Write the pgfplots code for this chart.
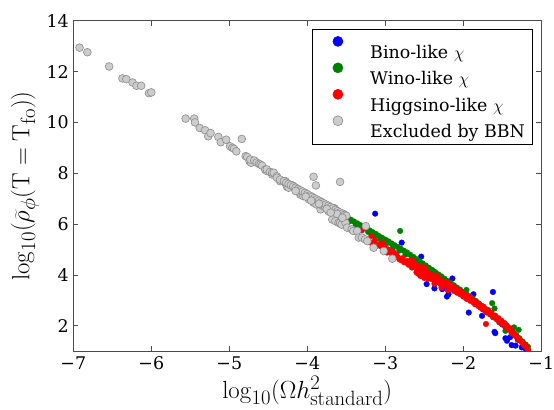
\documentclass[border=0pt]{standalone}
\usepackage[no-math]{fontspec}
\setmainfont{DejaVu Serif}
\usepackage{pgfplots}
\pgfplotsset{compat=1.18}
\definecolor{mplblue}{rgb}{0,0,1}
\definecolor{mplgreen}{rgb}{0,0.5,0}
\definecolor{mplred}{rgb}{1,0,0}
\definecolor{bbnfill}{rgb}{0.8,0.8,0.8}
\definecolor{bbnedge}{rgb}{0.55,0.55,0.55}
\definecolor{axgray}{rgb}{0.3,0.3,0.3}
\newcommand\tickfont{\fontsize{17.5}{20}\selectfont}
\newcommand\labfont{\fontsize{24.88}{29}\selectfont}
\begin{document}
\begin{tikzpicture}
\useasboundingbox (-73.3bp,-58.8bp) rectangle (480.7bp,351.2bp);
\begin{axis}[
  scale only axis, width=468bp, height=330.5bp,
  xmin=-7, xmax=-1, ymin=1, ymax=14,
  xtick={-7,-6,-5,-4,-3,-2,-1},
  xticklabels={−7,−6,−5,−4,−3,−2,−1},
  ytick={2,4,6,8,10,12,14},
  yticklabels={2,4,6,8,10,12,14},
  tick align=inside, major tick length=5bp,
  every tick/.style={draw=axgray, line width=0.8bp},
  axis line style={draw=axgray, line width=1.1bp},
  ticklabel style={font=\tickfont},
  xticklabel style={yshift=-2bp},
  yticklabel style={xshift=-1bp},
  clip marker paths=true,
  xlabel={$\log_{10}(\Omega h^2_{\mathrm{standard}})$},
  ylabel={$\log_{10}(\widetilde{\rho}_{\phi}(\mathrm{T}=\mathrm{T}_{\mathrm{fo}}))$},
  every axis x label/.style={at={(axis description cs:0.5,-0.1204)},anchor=center,font=\labfont},
  every axis y label/.style={at={(axis description cs:-0.1032,0.5)},anchor=center,rotate=90,font=\labfont},
  legend style={at={(axis description cs:0.981,0.975)}, anchor=north east,
    draw=black, line width=0.9bp, fill=white, inner xsep=7bp, inner ysep=7bp,
    row sep=4.7bp, font=\tickfont,
    nodes={inner sep=0pt, text height=18.5bp, text depth=0bp},
    /tikz/every odd column/.style={column sep=27bp}},
  legend cell align=left,
  legend image code/.code={\path (-17.7bp,7.5bp) (5bp,7.5bp); \draw[#1, mark size=5bp, line width=0.6bp] plot coordinates {(0bp,7.5bp)};},
]
% Bino-like
\addplot[only marks, mark=*, mark size=2.9bp, draw=mplblue, fill=mplblue, line width=0.2bp] table {
x y
-3.13 6.41
-2.79 5.27
-2.54 4.72
-2.14 3.86
-2.47 3.64
-2.37 3.47
-2.27 3.44
-2.21 3.15
-2.19 3.24
-1.87 3.24
-1.62 3.33
-1.93 2.52
-1.76 2.39
-1.60 1.76
-1.59 1.71
-1.46 1.51
-1.44 1.41
-1.40 1.55
-1.38 1.24
-1.33 1.22
-1.25 1.15
-2.60 4.35
-2.30 3.75
-2.05 3.30
-1.75 2.65
-1.50 2.05
-1.30 1.45
-1.20 1.10
};
\addlegendentry{Bino-like $\chi$}
% Wino-like
\addplot[only marks, mark=*, mark size=2.9bp, draw=mplgreen, fill=mplgreen, line width=0.2bp] table {
x y
-3.48 6.24
-3.44 6.17
-3.40 6.10
-3.36 6.03
-3.32 5.96
-3.28 5.89
-3.24 5.82
-3.20 5.75
-3.16 5.68
-3.12 5.61
-3.08 5.53
-3.04 5.46
-3.00 5.39
-2.96 5.32
-2.92 5.24
-2.88 5.17
-2.84 5.10
-2.80 5.03
-2.76 4.95
-2.72 4.88
-2.68 4.79
-2.64 4.71
-2.60 4.62
-2.56 4.54
-2.52 4.45
-2.48 4.37
-2.44 4.28
-2.40 4.20
-2.36 4.11
-2.32 4.02
-2.28 3.94
-2.24 3.85
-2.20 3.76
-2.16 3.68
-2.12 3.59
-2.08 3.50
-2.04 3.42
-2.00 3.33
-1.96 3.24
-1.92 3.16
-1.88 3.07
-1.84 2.98
-1.80 2.88
-1.76 2.78
-1.72 2.68
-1.68 2.59
-1.64 2.49
-1.60 2.39
-1.56 2.29
-1.52 2.20
-1.48 2.10
-1.44 2.00
-1.40 1.88
-1.36 1.75
-1.32 1.63
-1.28 1.51
-1.24 1.38
-1.20 1.26
-1.17 1.17
-3.46 6.10
-3.38 5.97
-3.30 5.83
-3.22 5.69
-3.14 5.54
-3.06 5.40
-2.98 5.25
-2.90 5.10
-2.82 4.96
-2.74 4.80
-2.66 4.64
-2.58 4.47
-2.50 4.30
-2.42 4.13
-2.34 3.96
-2.26 3.79
-2.18 3.61
-2.10 3.44
-2.02 3.27
-1.94 3.09
-1.86 2.92
-1.78 2.73
-1.70 2.53
-1.62 2.34
-1.54 2.14
-1.46 1.94
-1.38 1.70
-1.30 1.46
-1.22 1.22
-2.81 5.73
-1.63 2.89
-1.60 2.68
-1.35 1.94
-1.29 1.84
-1.46 1.80
-1.96 3.41
};
\addlegendentry{Wino-like $\chi$}
% Higgsino-like
\addplot[only marks, mark=*, mark size=2.9bp, draw=mplred, fill=mplred, line width=0.2bp] table {
x y
-3.30 5.76
-3.18 5.53
-3.19 5.27
-3.15 5.30
-3.13 5.36
-3.11 5.14
-3.08 5.20
-3.05 5.12
-3.03 5.25
-3.00 5.05
-2.98 4.88
-2.96 5.00
-2.94 4.95
-2.92 4.85
-2.90 4.92
-2.88 4.74
-2.86 4.80
-2.84 4.70
-2.82 4.62
-2.80 4.58
-2.78 4.66
-2.76 4.50
-2.74 4.49
-2.72 4.55
-2.70 4.40
-2.68 4.55
-2.66 4.29
-2.64 4.38
-2.62 4.45
-2.60 4.30
-2.59 4.20
-2.57 4.35
-2.55 3.96
-2.54 4.10
-2.52 4.25
-2.51 4.16
-2.49 4.05
-2.48 3.95
-2.46 4.12
-2.44 4.03
-2.43 3.90
-2.41 4.00
-2.40 3.83
-2.38 3.95
-2.36 3.78
-2.34 3.77
-2.33 3.90
-2.31 3.70
-2.30 3.82
-2.29 3.64
-2.27 3.75
-2.25 3.60
-2.23 3.70
-2.21 3.57
-2.19 3.48
-2.18 3.62
-2.16 3.45
-2.14 3.55
-2.12 3.37
-2.10 3.46
-2.08 3.30
-2.06 3.40
-2.04 3.24
-2.02 3.32
-2.00 3.15
-1.98 3.25
-1.96 3.08
-1.95 3.05
-1.93 3.13
-1.91 2.98
-1.89 3.05
-1.87 2.92
-1.85 2.85
-1.83 2.93
-1.81 2.78
-1.79 2.84
-1.78 2.72
-1.76 2.68
-1.74 2.75
-1.72 2.60
-1.70 2.53
-1.68 2.62
-1.66 2.45
-1.64 2.50
-1.62 2.38
-1.61 2.33
-1.59 2.40
-1.57 2.25
-1.55 2.30
-1.53 2.13
-1.51 2.20
-1.49 2.05
-1.47 2.10
-1.45 1.98
-1.44 1.94
-1.42 1.85
-1.40 1.90
-1.38 1.75
-1.36 1.72
-1.35 1.67
-1.33 1.60
-1.31 1.55
-1.29 1.48
-1.27 1.42
-1.25 1.35
-1.23 1.30
-1.22 1.28
-1.20 1.20
-1.18 1.11
-1.17 1.05
-2.58 4.05
-2.50 3.88
-2.45 3.85
-2.37 3.65
-2.28 3.50
-2.20 3.40
-2.60 4.10
-2.65 4.55
-2.50 4.30
-2.35 3.98
-2.20 3.70
-2.05 3.38
-1.90 3.10
-1.75 2.72
-1.60 2.38
-1.45 2.02
-1.71 2.07
};
\addlegendentry{Higgsino-like $\chi$}
% Excluded by BBN
\addplot[only marks, mark=*, mark size=3.9bp, draw=bbnedge, fill=bbnfill, line width=0.6bp] table {
x y
-6.92 12.94
-6.82 12.76
-6.54 12.20
-6.37 11.73
-6.32 11.70
-6.24 11.57
-6.19 11.44
-6.13 11.44
-6.03 11.15
-6.00 11.18
-5.56 10.15
-5.45 10.15
-5.44 10.00
-5.38 9.78
-5.31 9.69
-5.27 9.45
-5.24 9.58
-5.14 9.43
-5.11 9.22
-5.04 9.32
-4.84 9.35
-4.99 9.06
-4.96 9.00
-4.94 8.96
-4.91 8.86
-4.79 8.67
-4.77 8.64
-4.74 8.47
-4.72 8.41
-4.73 8.54
-4.68 8.50
-4.65 8.42
-4.62 8.37
-4.60 8.34
-4.58 8.30
-4.54 8.14
-4.52 8.09
-4.52 8.15
-4.48 8.05
-4.45 7.95
-4.45 8.02
-4.43 8.02
-4.39 7.88
-4.39 7.82
-4.35 7.69
-4.35 7.75
-4.28 7.69
-4.28 7.62
-4.26 7.47
-4.24 7.43
-4.19 7.52
-4.18 7.49
-4.13 7.36
-4.09 7.16
-4.09 7.23
-4.05 7.10
-3.98 7.04
-3.98 6.97
-3.92 6.97
-3.92 6.84
-3.88 6.86
-3.88 6.77
-3.83 6.58
-3.81 6.73
-3.79 6.71
-3.77 6.67
-3.73 6.51
-3.71 6.58
-3.66 6.58
-3.65 6.62
-3.62 6.45
-3.53 6.38
-3.68 6.18
-3.64 6.12
-3.60 6.05
-3.58 6.05
-3.56 5.98
-3.51 6.05
-3.49 5.86
-3.43 5.79
-3.41 5.73
-3.36 5.73
-3.34 5.47
-3.30 5.47
-3.26 5.40
-3.25 5.92
-3.23 5.33
-3.15 5.07
-3.02 4.94
-2.91 4.64
-3.92 7.86
-3.89 7.52
-3.58 7.66
-4.30 7.69
-4.27 7.63
-4.24 7.58
-4.21 7.53
-4.18 7.48
-4.15 7.43
-4.12 7.38
-4.09 7.33
-4.06 7.28
-4.03 7.23
-4.00 7.18
-3.97 7.12
-3.94 7.07
-3.91 7.02
-3.88 6.97
-3.85 6.92
-3.82 6.87
-3.79 6.82
-3.76 6.77
-3.73 6.72
-3.70 6.67
-3.67 6.62
-3.64 6.56
-3.61 6.51
-3.58 6.46
-3.55 6.41
-3.52 6.36
-3.50 6.33
-4.15 7.30
-4.02 7.08
-3.95 6.92
-3.85 6.80
-3.75 6.60
-3.62 6.40
-3.55 6.25
-3.70 6.45
};
\addlegendentry{Excluded by BBN}
\end{axis}
\end{tikzpicture}
\end{document}
